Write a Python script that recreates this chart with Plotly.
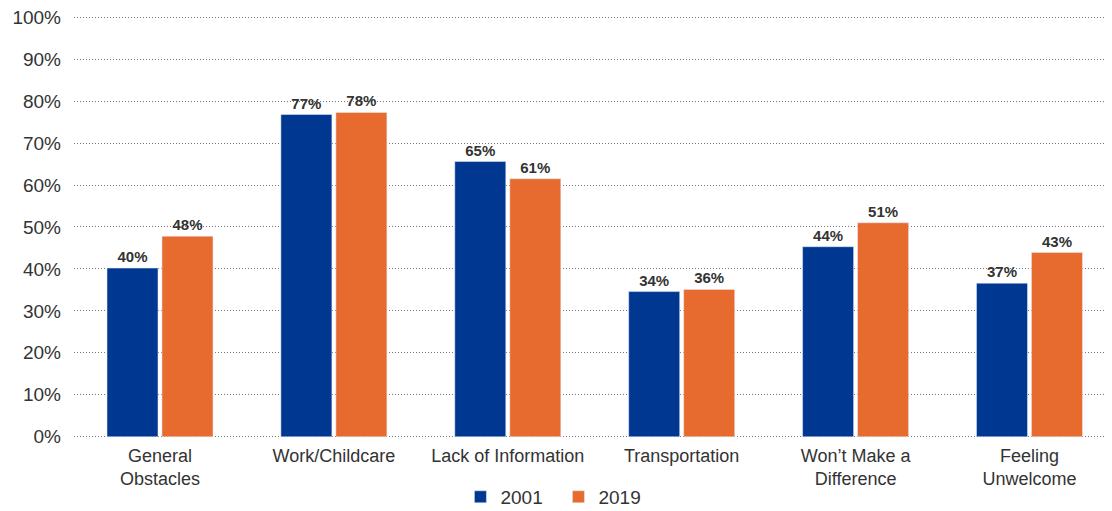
import plotly.graph_objects as go

categories = ["General<br>Obstacles", "Work/Childcare", "Lack of Information",
              "Transportation", "Won’t Make a<br>Difference", "Feeling<br>Unwelcome"]
values_2001 = [40.2, 76.8, 65.6, 34.6, 45.3, 36.6]
values_2019 = [47.8, 77.3, 61.5, 35.1, 51.0, 43.9]
labels_2001 = ["40%", "77%", "65%", "34%", "44%", "37%"]
labels_2019 = ["48%", "78%", "61%", "36%", "51%", "43%"]
y_ticks = [0, 10, 20, 30, 40, 50, 60, 70, 80, 90, 100]
y_tick_labels = [f"{v}%" for v in y_ticks]

BLUE = "#003891"
ORANGE = "#E76A2E"
TEXT = "#333333"
FONT = "Liberation Sans, Arial, sans-serif"

fig = go.Figure()
fig.add_trace(go.Bar(name="2001", x=categories, y=values_2001, marker_color=BLUE,
                     text=labels_2001, textposition="outside", cliponaxis=False,
                     textfont=dict(family=FONT, size=15, color=TEXT, weight="bold")))
fig.add_trace(go.Bar(name="2019", x=categories, y=values_2019, marker_color=ORANGE,
                     text=labels_2019, textposition="outside", cliponaxis=False,
                     textfont=dict(family=FONT, size=15, color=TEXT, weight="bold")))

fig.update_layout(
    width=1104, height=503,
    margin=dict(l=66, r=2, t=5, b=73),
    paper_bgcolor="white", plot_bgcolor="white",
    barmode="group", bargap=0.3675, bargroupgap=0.0727,
    font=dict(family=FONT, size=18, color=TEXT),
    showlegend=True,
    legend=dict(orientation="h", x=0.373, xanchor="left",
                yref="container", y=0.028, yanchor="middle",
                entrywidth=53, entrywidthmode="pixels",
                font=dict(family=FONT, size=19, color=TEXT), traceorder="normal"),
)
fig.update_xaxes(range=[-0.4945, 5.463], showgrid=False, showline=False, ticks="",
                 automargin=False, ticklabelstandoff=5,
                 tickfont=dict(family=FONT, size=18, color=TEXT))
fig.update_yaxes(range=[-0.3, 101], tickmode="array", tickvals=y_ticks, ticktext=y_tick_labels,
                 showgrid=True, gridcolor="#777777", griddash="1px,2px", gridwidth=1,
                 zeroline=False, showline=False, ticks="", ticklabelstandoff=12,
                 ticklabeloverflow="allow",
                 automargin=False, layer="above traces",
                 tickfont=dict(family=FONT, size=19, color=TEXT))

fig.write_html("out.html")
